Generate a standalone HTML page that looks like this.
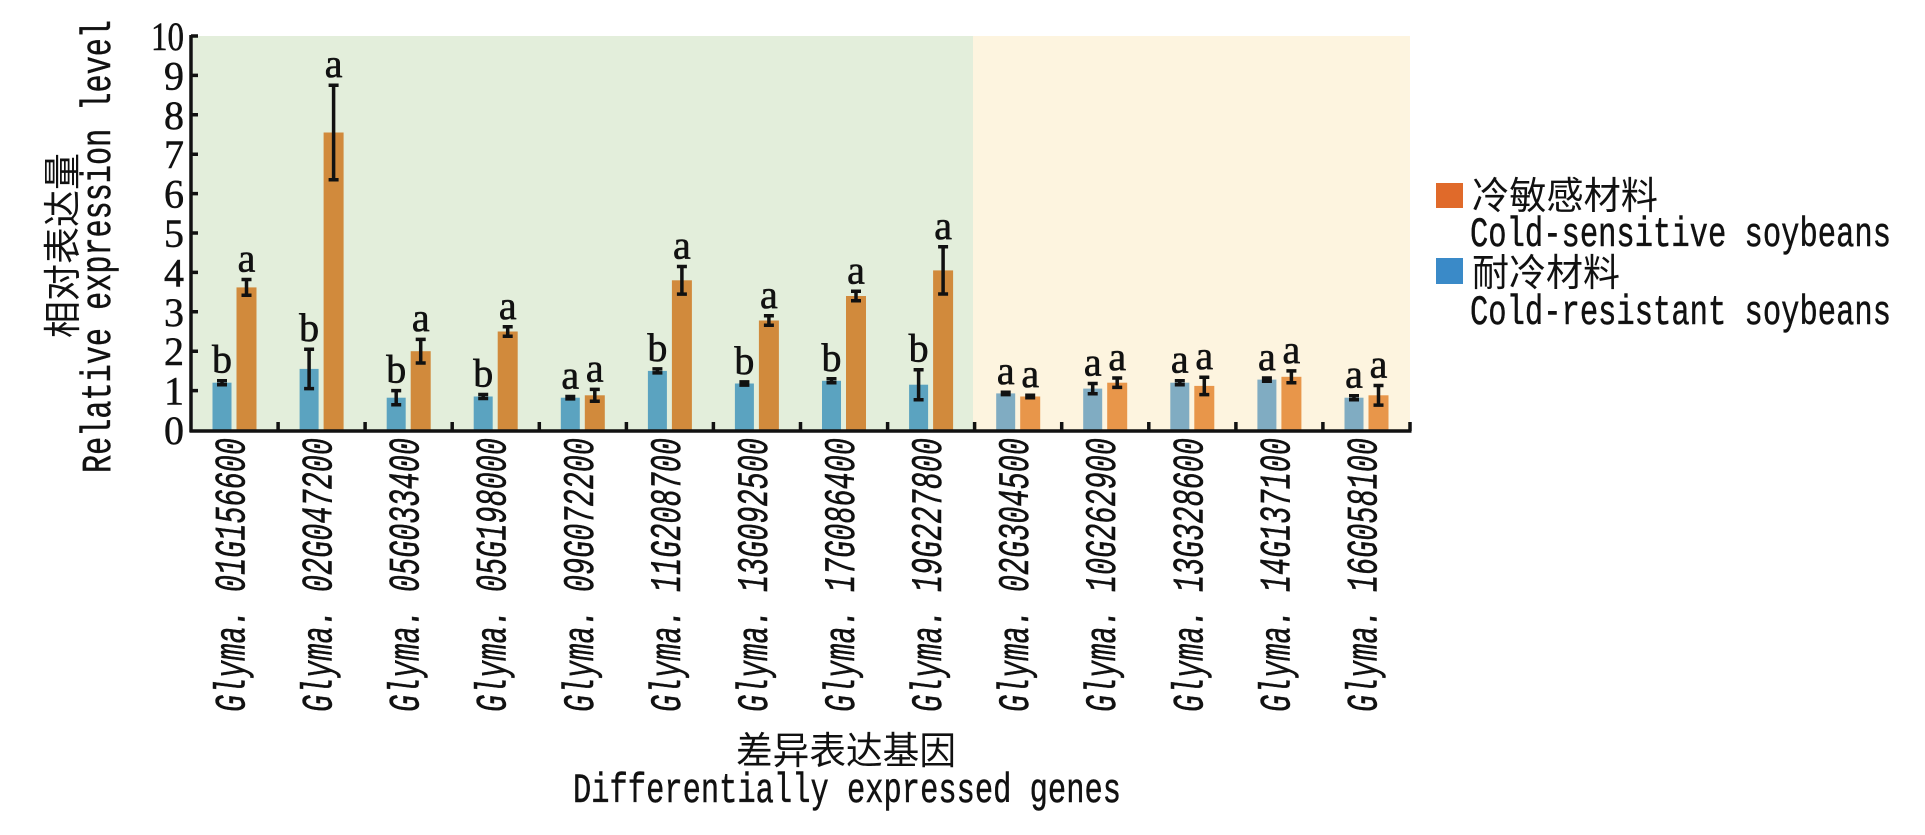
<!DOCTYPE html>
<html><head><meta charset="utf-8"><style>html,body{margin:0;padding:0;background:#fff}svg{display:block}</style></head>
<body>
<svg width="1925" height="835" viewBox="0 0 1925 835" xmlns="http://www.w3.org/2000/svg">
<rect x="193" y="36" width="780" height="394" fill="#e3eedb"/>
<rect x="973" y="36" width="437" height="394" fill="#fdf4df"/>

<g id="bars">
<g fill="#5ba3c0">
<rect x="212.5" y="382.7" width="19" height="47.3"/>
<rect x="299.6" y="368.9" width="19" height="61.1"/>
<rect x="386.7" y="397.7" width="19" height="32.3"/>
<rect x="473.7" y="396.5" width="19" height="33.5"/>
<rect x="560.8" y="397.7" width="19" height="32.3"/>
<rect x="647.9" y="370.9" width="19" height="59.1"/>
<rect x="734.9" y="383.5" width="19" height="46.5"/>
<rect x="822.0" y="380.8" width="19" height="49.2"/>
<rect x="909.1" y="384.7" width="19" height="45.3"/>
</g>
<g fill="#d18a3c">
<rect x="236.5" y="287.4" width="20" height="142.6"/>
<rect x="323.6" y="132.5" width="20" height="297.5"/>
<rect x="410.7" y="351.2" width="20" height="78.8"/>
<rect x="497.7" y="331.5" width="20" height="98.5"/>
<rect x="584.8" y="395.3" width="20" height="34.7"/>
<rect x="671.9" y="280.3" width="20" height="149.7"/>
<rect x="758.9" y="320.5" width="20" height="109.5"/>
<rect x="846.0" y="296.0" width="20" height="134"/>
<rect x="933.1" y="270.4" width="20" height="159.6"/>
</g>
<g fill="#80acc2">
<rect x="996.2" y="393.4" width="19" height="36.6"/>
<rect x="1083.2" y="388.6" width="19" height="41.4"/>
<rect x="1170.3" y="382.7" width="19" height="47.3"/>
<rect x="1257.4" y="379.6" width="19" height="50.4"/>
<rect x="1344.5" y="397.7" width="19" height="32.3"/>
</g>
<g fill="#e8964a">
<rect x="1020.2" y="396.5" width="20" height="33.5"/>
<rect x="1107.2" y="382.7" width="20" height="47.3"/>
<rect x="1194.3" y="385.9" width="20" height="44.1"/>
<rect x="1281.4" y="376.8" width="20" height="53.2"/>
<rect x="1368.5" y="395.3" width="20" height="34.7"/>
</g>
</g>

<g stroke="#111" stroke-width="3.5" fill="none">
<path d="M222 380.7V384.7M217 380.7h10M217 384.7h10"/>
<path d="M246.5 279.5V295.3M241.5 279.5h10M241.5 295.3h10"/>
<path d="M309.1 349.2V388.6M304.1 349.2h10M304.1 388.6h10"/>
<path d="M333.6 85.2V179.8M328.6 85.2h10M328.6 179.8h10"/>
<path d="M396.2 390.6V404.8M391.2 390.6h10M391.2 404.8h10"/>
<path d="M420.7 339.4V363M415.7 339.4h10M415.7 363h10"/>
<path d="M483.2 394.5V398.5M478.2 394.5h10M478.2 398.5h10"/>
<path d="M507.7 326.8V336.2M502.7 326.8h10M502.7 336.2h10"/>
<path d="M570.3 396.5V398.9M565.3 396.5h10M565.3 398.9h10"/>
<path d="M594.8 389.4V401.2M589.8 389.4h10M589.8 401.2h10"/>
<path d="M657.4 368.9V372.9M652.4 368.9h10M652.4 372.9h10"/>
<path d="M681.9 266.5V294.1M676.9 266.5h10M676.9 294.1h10"/>
<path d="M744.4 381.9V385.1M739.4 381.9h10M739.4 385.1h10"/>
<path d="M768.9 315.8V325.2M763.9 315.8h10M763.9 325.2h10"/>
<path d="M831.5 378.8V382.8M826.5 378.8h10M826.5 382.8h10"/>
<path d="M856 291.3V300.7M851 291.3h10M851 300.7h10"/>
<path d="M918.6 369.7V399.7M913.6 369.7h10M913.6 399.7h10"/>
<path d="M943.1 246.8V294M938.1 246.8h10M938.1 294h10"/>
<path d="M1005.7 392.2V394.6M1000.7 392.2h10M1000.7 394.6h10"/>
<path d="M1030.2 395.3V397.7M1025.2 395.3h10M1025.2 397.7h10"/>
<path d="M1092.7 383.5V393.7M1087.7 383.5h10M1087.7 393.7h10"/>
<path d="M1117.2 378V387.4M1112.2 378h10M1112.2 387.4h10"/>
<path d="M1179.8 380.7V384.7M1174.8 380.7h10M1174.8 384.7h10"/>
<path d="M1204.3 377.2V394.6M1199.3 377.2h10M1199.3 394.6h10"/>
<path d="M1266.9 378V381.2M1261.9 378h10M1261.9 381.2h10"/>
<path d="M1291.4 370.9V382.7M1286.4 370.9h10M1286.4 382.7h10"/>
<path d="M1354 395.7V399.7M1349 395.7h10M1349 399.7h10"/>
<path d="M1378.5 385.5V405.1M1373.5 385.5h10M1373.5 405.1h10"/>
</g>

<g font-family="Liberation Serif, serif" font-size="40" fill="#111" stroke="#111" stroke-width="0.6" text-anchor="middle">
<text x="222" y="372.7">b</text><text x="246.5" y="271.5">a</text>
<text x="309.1" y="341">b</text><text x="333.6" y="77">a</text>
<text x="396.2" y="382.6">b</text><text x="420.7" y="331">a</text>
<text x="483.2" y="386.5">b</text><text x="507.7" y="318.8">a</text>
<text x="570.3" y="388.5">a</text><text x="594.8" y="381.4">a</text>
<text x="657.4" y="361">b</text><text x="681.9" y="258.5">a</text>
<text x="744.4" y="374">b</text><text x="768.9" y="307.8">a</text>
<text x="831.5" y="370.8">b</text><text x="856" y="283.3">a</text>
<text x="918.6" y="361.7">b</text><text x="943.1" y="238.8">a</text>
<text x="1005.7" y="384">a</text><text x="1030.2" y="387">a</text>
<text x="1092.7" y="375.5">a</text><text x="1117.2" y="370">a</text>
<text x="1179.8" y="372.7">a</text><text x="1204.3" y="369">a</text>
<text x="1266.9" y="370">a</text><text x="1291.4" y="363">a</text>
<text x="1354" y="387.7">a</text><text x="1378.5" y="377.5">a</text>
</g>

<g stroke="#111" stroke-width="3.5" fill="none">
<path d="M191 35V432M189.5 431H1411.5"/>
<path d="M191 36h7M191 75.4h7M191 114.8h7M191 154.2h7M191 193.6h7M191 233h7M191 272.4h7M191 311.8h7M191 351.2h7M191 390.6h7"/>
<path d="M278.1 431v-9M365.1 431v-9M452.2 431v-9M539.3 431v-9M626.4 431v-9M713.4 431v-9M800.5 431v-9M887.6 431v-9M974.6 431v-9M1061.7 431v-9M1148.8 431v-9M1235.9 431v-9M1322.9 431v-9M1410 431v-9"/>
</g>

<g font-family="Liberation Serif, serif" font-size="40" fill="#111" stroke="#111" stroke-width="0.5" text-anchor="end">
<text x="184" y="50" textLength="33" lengthAdjust="spacingAndGlyphs">10</text>
<text x="184" y="89.4">9</text><text x="184" y="128.8">8</text><text x="184" y="168.2">7</text>
<text x="184" y="207.6">6</text><text x="184" y="247">5</text><text x="184" y="286.4">4</text>
<text x="184" y="325.8">3</text><text x="184" y="365.2">2</text><text x="184" y="404.6">1</text>
<text x="184" y="444">0</text>
</g>

<text transform="translate(76,338) rotate(-90)" font-family="Liberation Sans, 'Noto Sans CJK SC', sans-serif" font-size="38" fill="#111" textLength="185" lengthAdjust="spacingAndGlyphs">相对表达量</text>
<text transform="translate(110,473) rotate(-90)" font-family="Liberation Mono, monospace" font-size="42" fill="#111" stroke="#111" stroke-width="0.5" textLength="453" lengthAdjust="spacingAndGlyphs">Relative expression level</text>

<g font-family="Liberation Mono, monospace" font-style="italic" font-size="44" fill="#111" stroke="#111" stroke-width="0.5" text-anchor="end">
<text transform="translate(244.5,438) rotate(-90)" textLength="274" lengthAdjust="spacingAndGlyphs">Glyma. 01G156600</text>
<text transform="translate(331.6,438) rotate(-90)" textLength="274" lengthAdjust="spacingAndGlyphs">Glyma. 02G047200</text>
<text transform="translate(418.7,438) rotate(-90)" textLength="274" lengthAdjust="spacingAndGlyphs">Glyma. 05G033400</text>
<text transform="translate(505.7,438) rotate(-90)" textLength="274" lengthAdjust="spacingAndGlyphs">Glyma. 05G198000</text>
<text transform="translate(592.8,438) rotate(-90)" textLength="274" lengthAdjust="spacingAndGlyphs">Glyma. 09G072200</text>
<text transform="translate(679.9,438) rotate(-90)" textLength="274" lengthAdjust="spacingAndGlyphs">Glyma. 11G208700</text>
<text transform="translate(766.9,438) rotate(-90)" textLength="274" lengthAdjust="spacingAndGlyphs">Glyma. 13G092500</text>
<text transform="translate(854,438) rotate(-90)" textLength="274" lengthAdjust="spacingAndGlyphs">Glyma. 17G086400</text>
<text transform="translate(941.1,438) rotate(-90)" textLength="274" lengthAdjust="spacingAndGlyphs">Glyma. 19G227800</text>
<text transform="translate(1028.2,438) rotate(-90)" textLength="274" lengthAdjust="spacingAndGlyphs">Glyma. 02G304500</text>
<text transform="translate(1115.2,438) rotate(-90)" textLength="274" lengthAdjust="spacingAndGlyphs">Glyma. 10G262900</text>
<text transform="translate(1202.3,438) rotate(-90)" textLength="274" lengthAdjust="spacingAndGlyphs">Glyma. 13G328600</text>
<text transform="translate(1289.4,438) rotate(-90)" textLength="274" lengthAdjust="spacingAndGlyphs">Glyma. 14G137100</text>
<text transform="translate(1376.5,438) rotate(-90)" textLength="274" lengthAdjust="spacingAndGlyphs">Glyma. 16G058100</text>
</g>

<text x="736" y="764" font-family="Liberation Sans, 'Noto Sans CJK SC', sans-serif" font-size="38" fill="#111" textLength="220" lengthAdjust="spacingAndGlyphs">差异表达基因</text>
<text x="573" y="802" font-family="Liberation Mono, monospace" font-size="42" fill="#111" stroke="#111" stroke-width="0.5" textLength="548" lengthAdjust="spacingAndGlyphs">Differentially expressed genes</text>

<rect x="1436" y="183" width="27" height="25" fill="#e06a2a"/>
<rect x="1436" y="258" width="27" height="26" fill="#3a8ac8"/>
<g font-family="Liberation Sans, 'Noto Sans CJK SC', sans-serif" font-size="38" fill="#111">
<text x="1472" y="209" textLength="186" lengthAdjust="spacingAndGlyphs">冷敏感材料</text>
<text x="1472" y="286" textLength="148" lengthAdjust="spacingAndGlyphs">耐冷材料</text>
</g>
<g font-family="Liberation Mono, monospace" font-size="42" fill="#111" stroke="#111" stroke-width="0.5">
<text x="1470" y="246" textLength="421" lengthAdjust="spacingAndGlyphs">Cold-sensitive soybeans</text>
<text x="1470" y="324" textLength="421" lengthAdjust="spacingAndGlyphs">Cold-resistant soybeans</text>
</g>
</svg>
</body></html>
